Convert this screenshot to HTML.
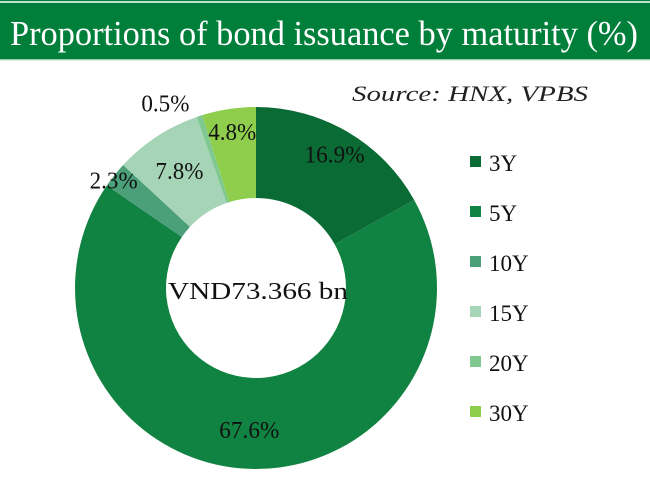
<!DOCTYPE html>
<html><head><meta charset="utf-8"><style>
body{margin:0;width:650px;height:489px;background:#fff;overflow:hidden;font-family:"Liberation Serif",serif}
</style></head><body>
<svg width="650" height="489">
<rect x="0" y="0" width="650" height="60" fill="#007f3a"/>
<line x1="0" y1="2" x2="650" y2="2" stroke="#fff" stroke-width="1.5"/>
<line x1="0" y1="60" x2="650" y2="60" stroke="#cfe6d6" stroke-width="1.5"/>
<text x="10" y="45" fill="#fff" font-size="35" textLength="628" lengthAdjust="spacingAndGlyphs">Proportions of bond issuance by maturity (%)</text>
<text x="588" y="101" text-anchor="end" font-size="22" font-style="italic" fill="#222" textLength="236" lengthAdjust="spacingAndGlyphs">Source: HNX, VPBS</text>
<g id="donut"></g>
<text x="258" y="299" text-anchor="middle" font-size="24" fill="#111" textLength="180" lengthAdjust="spacingAndGlyphs">VND73.366 bn</text>
<g id="legend"></g>
</svg>
<script>
const categories=["3Y","5Y","10Y","15Y","20Y","30Y"];
const values=[16.9,67.6,2.3,7.8,0.5,4.8];
const labels=["16.9%","67.6%","2.3%","7.8%","0.5%","4.8%"];
const colors=["#0b6b34","#108241","#4b9f79","#a5d4b6","#7fc990","#8fcd4d"];
const ns="http://www.w3.org/2000/svg";
const cx=256,cy=288,R=181,r=90;
const total=values.reduce((a,b)=>a+b,0);
const g=document.getElementById("donut");
const pt=(a,rad)=>[cx+rad*Math.sin(a),cy-rad*Math.cos(a)];
let acc=0;
values.forEach((v,i)=>{
  const a0=acc/total*2*Math.PI;acc+=v;const a1=acc/total*2*Math.PI;
  const lg=(a1-a0)>Math.PI?1:0;
  const [x0,y0]=pt(a0,R),[x1,y1]=pt(a1,R),[x2,y2]=pt(a1,r),[x3,y3]=pt(a0,r);
  const p=document.createElementNS(ns,"path");
  p.setAttribute("d",`M${x0},${y0}A${R},${R} 0 ${lg} 1 ${x1},${y1}L${x2},${y2}A${r},${r} 0 ${lg} 0 ${x3},${y3}Z`);
  p.setAttribute("fill",colors[i]);
  
  
  g.appendChild(p);
  const am=(a0+a1)/2;
  let [lx,ly]=pt(am,(R+r)/2);
  if(i===0){[lx,ly]=pt(am,155);}
  if(i===1){[lx,ly]=pt(am,142);}
  if(i===2){[lx,ly]=pt(am,172);lx-=8;}
  if(i===3){[lx,ly]=pt(am,140);}
  if(i===4){[lx,ly]=pt(am,R+13);lx-=30;}
  if(i===5){[lx,ly]=pt(am,158);}
  const t=document.createElementNS(ns,"text");
  t.setAttribute("x",lx);t.setAttribute("y",ly+8);
  t.setAttribute("text-anchor","middle");t.setAttribute("font-size","24");t.setAttribute("fill","#111");
  t.setAttribute("textLength",labels[i].length*12);t.setAttribute("lengthAdjust","spacingAndGlyphs");
  t.textContent=labels[i];
  
  
  g.appendChild(t);
});
const lgd=document.getElementById("legend");
categories.forEach((c,i)=>{
  const y=163+i*50;
  const s=document.createElementNS(ns,"rect");
  s.setAttribute("x",470);s.setAttribute("y",y-7);s.setAttribute("width",11);s.setAttribute("height",11);s.setAttribute("fill",colors[i]);
  
  
  lgd.appendChild(s);
  const t=document.createElementNS(ns,"text");
  t.setAttribute("x",489);t.setAttribute("y",y+8);t.setAttribute("font-size","23");t.setAttribute("fill","#111");
  t.textContent=c;
  
  
  lgd.appendChild(t);
});
</script>
</body></html>
